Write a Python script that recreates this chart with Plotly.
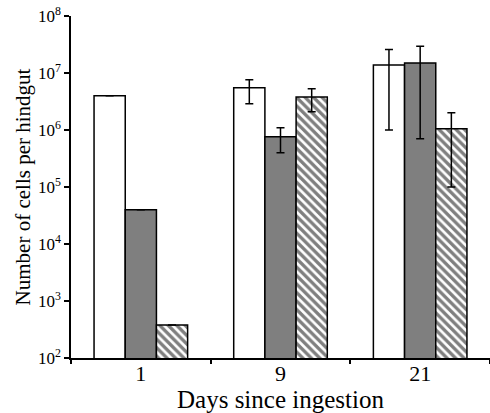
import plotly.graph_objects as go

days = ["1", "9", "21"]
white_vals = [4.0e6, 5.5e6, 1.38e7]
white_err_up = [None, 2.1e6, 1.2e7]
white_err_down = [None, 2.6e6, 1.28e7]
grey_vals = [4.0e4, 7.6e5, 1.5e7]
grey_err_up = [None, 3.4e5, 1.46e7]
grey_err_down = [None, 3.6e5, 1.43e7]
hatch_vals = [3.8e2, 3.8e6, 1.05e6]
hatch_err_up = [None, 1.5e6, 0.95e6]
hatch_err_down = [None, 1.7e6, 0.95e6]
ytick_vals = [1e2, 1e3, 1e4, 1e5, 1e6, 1e7, 1e8]
ytick_text = ["10<sup>%d</sup>" % e for e in range(2, 9)]
x_title = "Days since ingestion"

FONT = "Liberation Serif, Times New Roman, serif"
line = dict(color="black", width=1.5)

def err(up, down):
    return dict(type="data", symmetric=False, array=up, arrayminus=down,
                color="black", thickness=1.5, width=4)

fig = go.Figure()
fig.add_trace(go.Bar(x=days, y=white_vals, marker=dict(color="white", line=line),
                     error_y=err(white_err_up, white_err_down)))
fig.add_trace(go.Bar(x=days, y=grey_vals, marker=dict(color="#7f7f7f", line=line),
                     error_y=err(grey_err_up, grey_err_down)))
fig.add_trace(go.Bar(x=days, y=hatch_vals,
                     marker=dict(color="white", line=line,
                                 pattern=dict(shape="\\", fgcolor="black", bgcolor="white",
                                              size=6, solidity=0.55)),
                     error_y=err(hatch_err_up, hatch_err_down)))

fig.update_layout(
    width=490, height=413,
    margin=dict(l=71, r=0, t=16, b=55, autoexpand=False),
    paper_bgcolor="white", plot_bgcolor="white",
    barmode="group", bargap=0.33, bargroupgap=0,
    showlegend=False,
    font=dict(family=FONT, color="black", size=17),
    annotations=[dict(text=x_title, xref="paper", yref="paper", x=0.5, y=0,
                      xanchor="center", yanchor="middle", yshift=-41, showarrow=False,
                      font=dict(size=25, family=FONT, color="black"))],
)
fig.update_xaxes(
    type="category", showline=True, linecolor="black", linewidth=1.5,
    ticks="outside", tickson="boundaries", ticklen=4, tickcolor="black", tickwidth=1.5,
    tickfont=dict(size=22, family=FONT), automargin=False, ticklabelstandoff=-5,
    showgrid=False, zeroline=False,
)
fig.update_yaxes(
    type="log", range=[2, 8], showline=True, linecolor="black", linewidth=1.5,
    ticks="outside", ticklen=5, tickcolor="black", tickwidth=1.5,
    tickvals=ytick_vals, ticktext=ytick_text, ticklabeloverflow="allow",
    tickfont=dict(size=17, family=FONT), automargin=False,
    title=dict(text="Number of cells per hindgut", font=dict(size=21, family=FONT), standoff=2),
    showgrid=False, zeroline=False,
)
fig.write_html("out.html", config={"displayModeBar": False},
               post_script="document.body.style.margin='0';")
